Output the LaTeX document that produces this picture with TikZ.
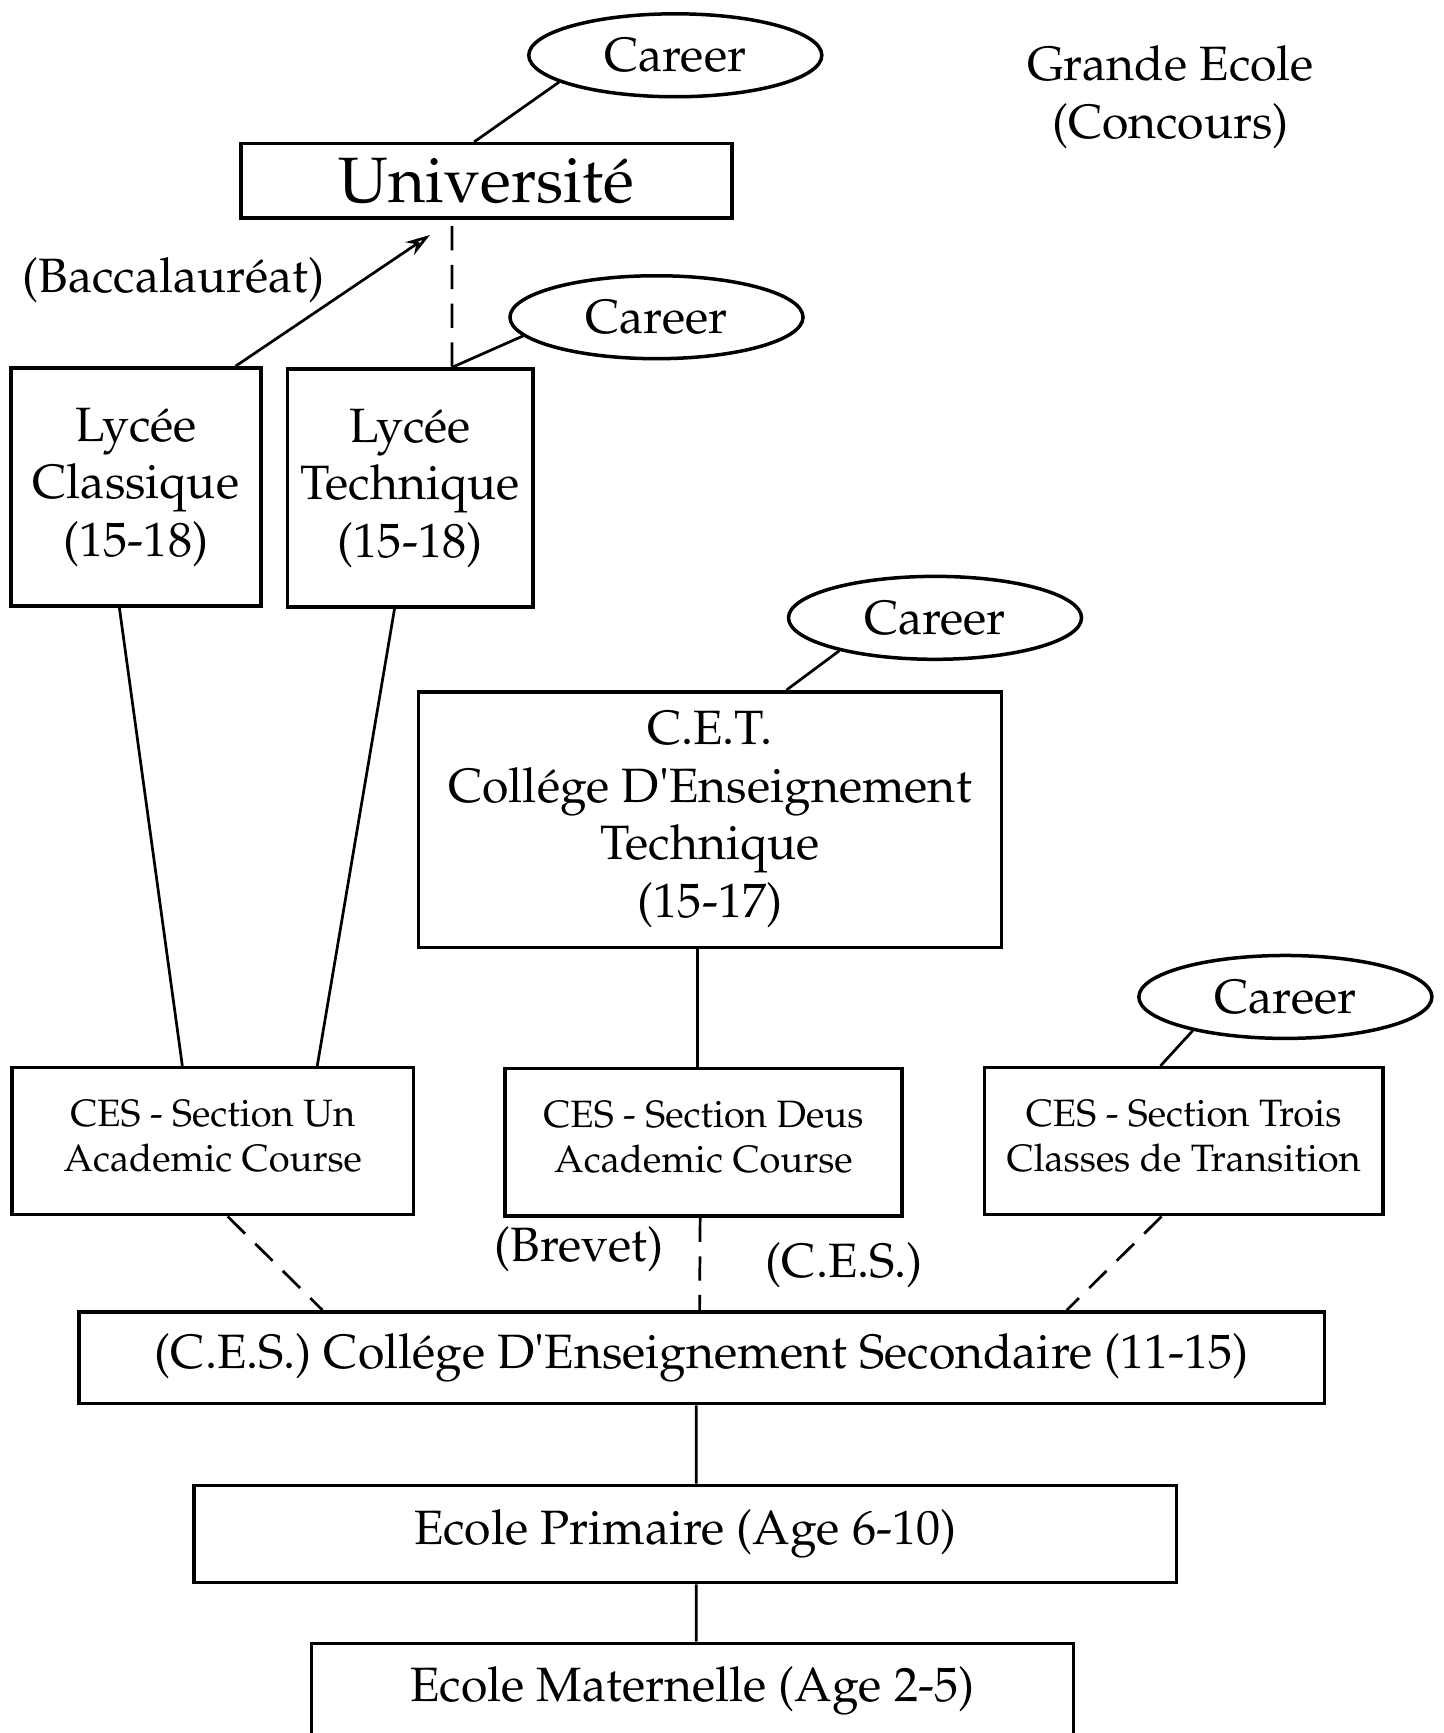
\documentclass[tikz,border=0pt]{standalone}
\usepackage[T1]{fontenc}
\usepackage{mathpazo}
\usetikzlibrary{shapes.geometric,arrows.meta}
\begin{document}
\begin{tikzpicture}[x=0.01cm,y=-0.01cm,font=\fontsize{12.4}{14.8}\selectfont,
    box/.style={draw,line width=0.9pt,inner sep=0pt,align=center},
    section/.style={box,minimum width=3.6cm,minimum height=1.33cm,text depth=0.1cm,font=\fontsize{9.8}{11.7}\selectfont},
    career/.style={draw,ellipse,line width=0.9pt,inner sep=0pt,minimum width=2.65cm,minimum height=0.75cm},
    link/.style={line width=0.7pt},
    dashlink/.style={link,dash pattern=on 0.22cm off 0.13cm}]
              \useasboundingbox (0,0) rectangle (1306,1568);
              \node[career] (car1) at (611,50) {Career};
              \node[align=center] (grande) at (1059,88) {Grande Ecole\\(Concours)};
              \node[box,minimum width=4.44cm,minimum height=0.67cm,font=\fontsize{16.5}{19}\selectfont] (univ) at (440,163.5) {Universit\'e};
              \node (bac) at (157,253) {(Baccalaur\'eat)};
              \node[career] (car2) at (594,287) {Career};
              \node[box,minimum width=2.26cm,minimum height=2.15cm] (lyc1) at (123,440.5) {Lyc\'ee\\Classique\\(15-18)};
              \node[box,minimum width=2.22cm,minimum height=2.15cm] (lyc2) at (371,441.5) {Lyc\'ee\\Technique\\(15-18)};
              \node[career] (car3) at (846,559) {Career};
              \node[box,minimum width=5.27cm,minimum height=2.31cm] (cet) at (642.5,741.5) {C.E.T.\\Coll\'ege D\textquotesingle Enseignement\\Technique\\(15-17)};
              \node[career] (car4) at (1163,902) {Career};
              \node[section,minimum width=3.63cm] (ces1) at (192.5,1032.5) {CES - Section Un\\Academic Course};
              \node[section,minimum width=3.59cm] (ces2) at (636.5,1033.5) {CES - Section Deus\\Academic Course};
              \node[section] (ces3) at (1071,1032.5) {CES - Section Trois\\Classes de Transition};
              \node (brevet) at (524,1130) {(Brevet)};
              \node (cesdip) at (764,1145) {(C.E.S.)};
              \node[box,minimum width=11.26cm,minimum height=0.83cm] (ces) at (635,1228.5) {(C.E.S.) Coll\'ege D\textquotesingle Enseignement Secondaire (11-15)};
              \node[box,minimum width=8.88cm,minimum height=0.88cm] (prim) at (620,1388) {Ecole Primaire (Age 6-10)};
              \node[box,minimum width=6.89cm,minimum height=0.86cm] (mat) at (626.5,1530) {Ecole Maternelle (Age 2-5)};
              \draw[link] (car1.193) -- ([xshift=-0.11cm]univ.north);
              \draw[link,-{Stealth[open,length=0.22cm,width=0.14cm]}] ([xshift=0.9cm]lyc1.north) -- ([xshift=-0.51cm,yshift=-0.14cm]univ.south);
              \draw[dashlink] ([xshift=-0.31cm,yshift=-0.06cm]univ.south) -- ([xshift=0.38cm]lyc2.north);
              \draw[link] (car2.188) -- ([xshift=0.38cm]lyc2.north);
              \draw[link] ([xshift=-0.15cm]lyc1.south) -- ([xshift=-0.275cm]ces1.north);
              \draw[link] ([xshift=-0.14cm]lyc2.south) -- ([xshift=0.945cm]ces1.north);
              \draw[link] (car3.199) -- ([xshift=0.69cm]cet.north);
              \draw[link] ([xshift=-0.115cm]cet.south) -- ([xshift=-0.055cm]ces2.north);
              \draw[link] (car4.200) -- ([xshift=-0.21cm]ces3.north);
              \draw[dashlink] ([xshift=0.135cm]ces1.south) -- ([xshift=-3.43cm]ces.north);
              \draw[dashlink] ([xshift=-0.03cm]ces2.south) -- ([xshift=-0.02cm]ces.north);
              \draw[dashlink] ([xshift=-0.2cm]ces3.south) -- ([xshift=3.3cm]ces.north);
              \draw[link] ([xshift=-0.05cm]ces.south) -- ([xshift=0.1cm]prim.north);
              \draw[link] ([xshift=0.1cm]prim.south) -- ([xshift=0.035cm]mat.north);
        \end{tikzpicture}
\end{document}
